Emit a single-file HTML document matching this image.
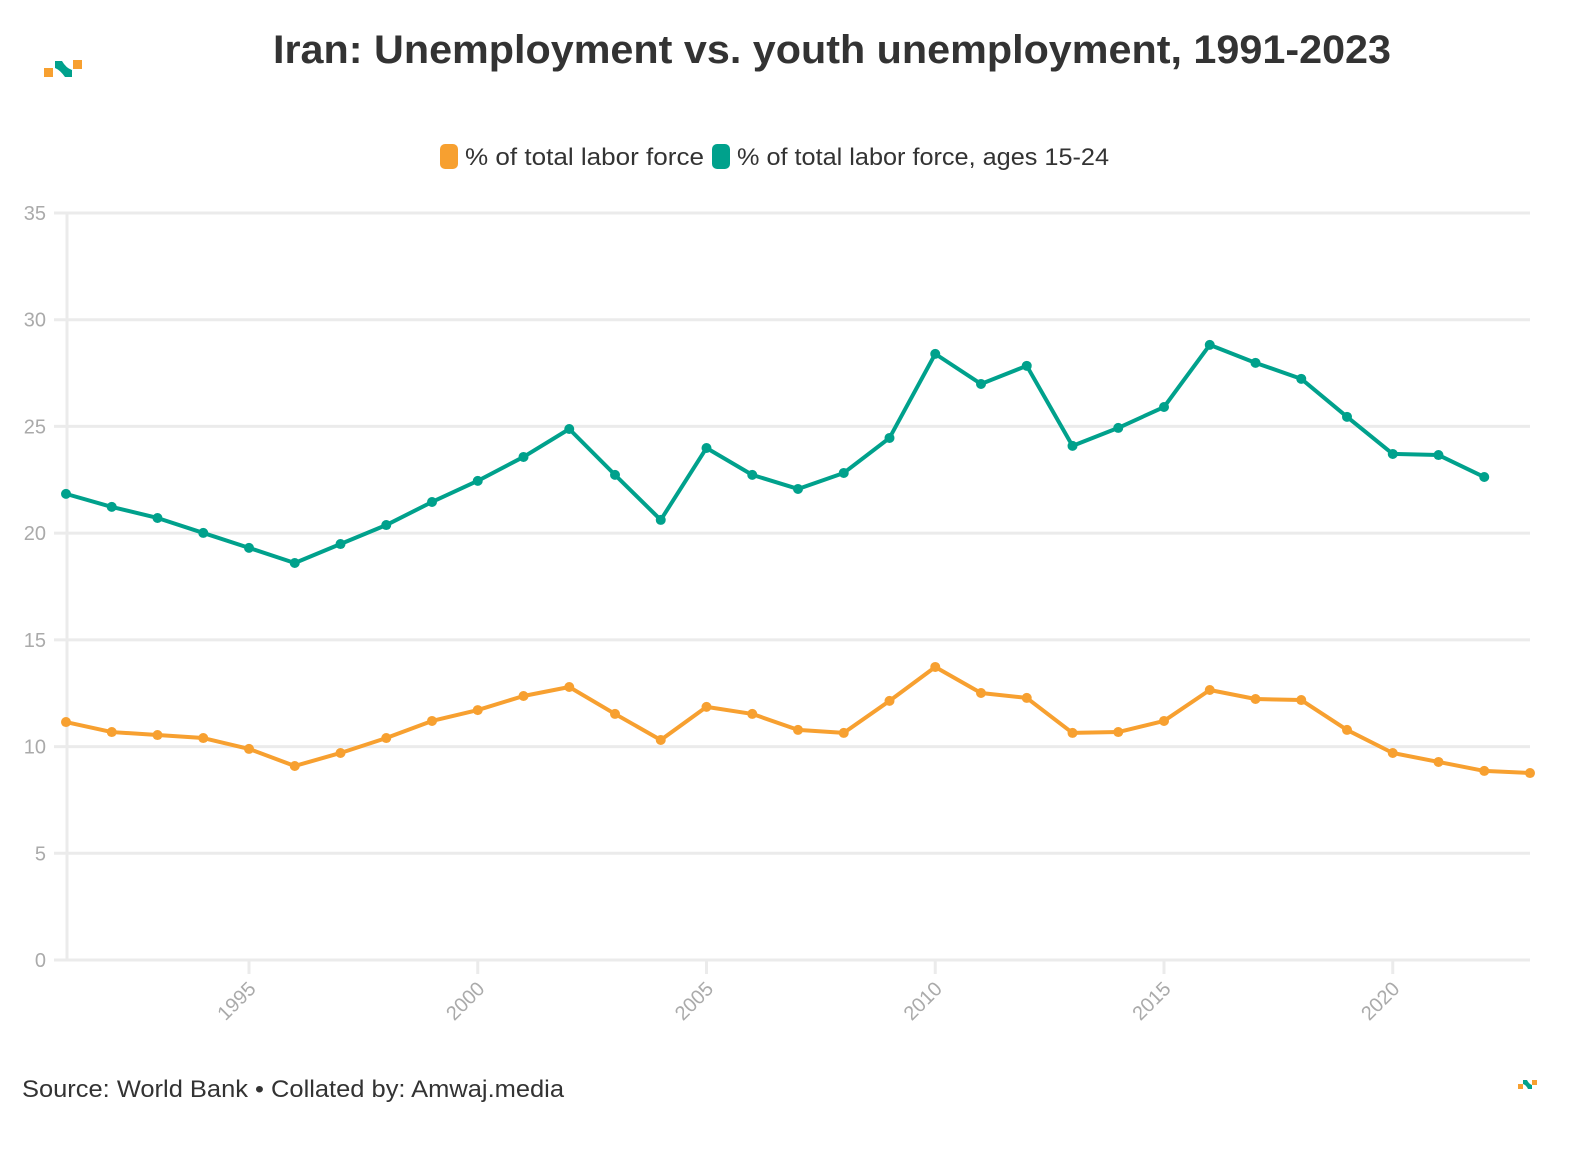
<!DOCTYPE html>
<html><head><meta charset="utf-8"><style>
body{margin:0;background:#fff;width:1592px;height:1150px;overflow:hidden;font-family:"Liberation Sans",sans-serif}
</style></head><body>
<svg id="c" width="1592" height="1150">
<g>
<rect x="44" y="68" width="9" height="9" fill="#f7a030"/>
<rect x="73" y="60" width="9" height="9" fill="#f7a030"/>
<path d="M55 61 L62 61 Q66 68 72 70 L72 77 L65 77 Q60 70 55 68 Z" fill="#00a18c"/>
</g>
<text x="832" y="63" text-anchor="middle" font-size="40" font-weight="bold" fill="#333" textLength="1118" lengthAdjust="spacingAndGlyphs">Iran: Unemployment vs. youth unemployment, 1991-2023</text>
<g>
<g><rect x="440" y="144" width="18" height="25" rx="5" fill="#f7a030"/><text x="465" y="165" font-size="24" fill="#333" textLength="239" lengthAdjust="spacingAndGlyphs">% of total labor force</text></g>
<g><rect x="712" y="144" width="18" height="25" rx="5" fill="#00a18c"/><text x="737" y="165" font-size="24" fill="#333" textLength="372" lengthAdjust="spacingAndGlyphs">% of total labor force, ages 15-24</text></g>
</g>
<g id="grid"></g><g id="axes"></g><g id="series"></g>
<text x="22" y="1097" font-size="24" fill="#333" textLength="542" lengthAdjust="spacingAndGlyphs">Source: World Bank • Collated by: Amwaj.media</text>
<g>
<rect x="1518" y="1084" width="5" height="5" fill="#f7a030"/><rect x="1532" y="1080" width="5" height="5" fill="#f7a030"/>
<path d="M1523 1080 L1527 1080 Q1529 1084 1532 1085 L1532 1089 L1528 1089 Q1526 1085 1523 1084Z" fill="#00a18c"/>
</g>
</svg>
<script>
const years=[1991,1992,1993,1994,1995,1996,1997,1998,1999,2000,2001,2002,2003,2004,2005,2006,2007,2008,2009,2010,2011,2012,2013,2014,2015,2016,2017,2018,2019,2020,2021,2022,2023];
const totalValues=[11.15,10.68,10.54,10.4,9.89,9.09,9.7,10.4,11.2,11.71,12.37,12.79,11.53,10.31,11.86,11.53,10.78,10.64,12.14,13.73,12.51,12.28,10.64,10.68,11.2,12.65,12.23,12.18,10.78,9.7,9.28,8.86,8.76];
const youthValues=[21.84,21.23,20.71,20.01,19.31,18.6,19.49,20.38,21.46,22.45,23.57,24.88,22.73,20.62,23.99,22.73,22.07,22.82,24.46,28.4,26.99,27.84,24.09,24.93,25.91,28.82,27.98,27.23,25.45,23.71,23.66,22.63];
const yTicks=[0,5,10,15,20,25,30,35];
const xTicks=[1995,2000,2005,2010,2015,2020];
const NS='http://www.w3.org/2000/svg';
const X=v=>66+(v-1991)*(1530-66)/32;
const Y=v=>960-v*(960-213)/35;
function mk(t,a,p){const e=document.createElementNS(NS,t);for(const k in a)e.setAttribute(k,a[k]);p.appendChild(e);return e;}
const grid=document.getElementById('grid'),axes=document.getElementById('axes'),ser=document.getElementById('series');
yTicks.forEach(v=>{
 const l=mk('line',{x1:54,x2:1530,y1:Y(v),y2:Y(v),stroke:'#ebebeb','stroke-width':3},grid);
 
 
 const t=mk('text',{x:46,y:Y(v)+7,'text-anchor':'end','font-size':20,fill:'#aaa'},axes);t.textContent=v;
 
 
});
const ax=mk('line',{x1:67,x2:67,y1:213,y2:961,stroke:'#ebebeb','stroke-width':3},axes);


xTicks.forEach(v=>{
 const tk=mk('line',{x1:X(v),x2:X(v),y1:960,y2:974,stroke:'#ebebeb','stroke-width':3},axes);
 
 
 const x=X(v)+8,y=990;
 const t=mk('text',{x:x,y:y,'text-anchor':'end','font-size':20,fill:'#aaa',transform:`rotate(-45 ${x} ${y})`},axes);t.textContent=v;
 
 
});
function draw(vals,color,name){
 const d=vals.map((v,i)=>(i?'L':'M')+X(years[i])+' '+Y(v)).join(' ');
 const p=mk('path',{d:d,fill:'none',stroke:color,'stroke-width':4,'stroke-linejoin':'round'},ser);
 
 
 vals.forEach((v,i)=>{const c=mk('circle',{cx:X(years[i]),cy:Y(v),r:5,fill:color},ser);
  
  });
}
draw(totalValues,'#f7a030','total');
draw(youthValues,'#00a18c','youth');
</script>
</body></html>
